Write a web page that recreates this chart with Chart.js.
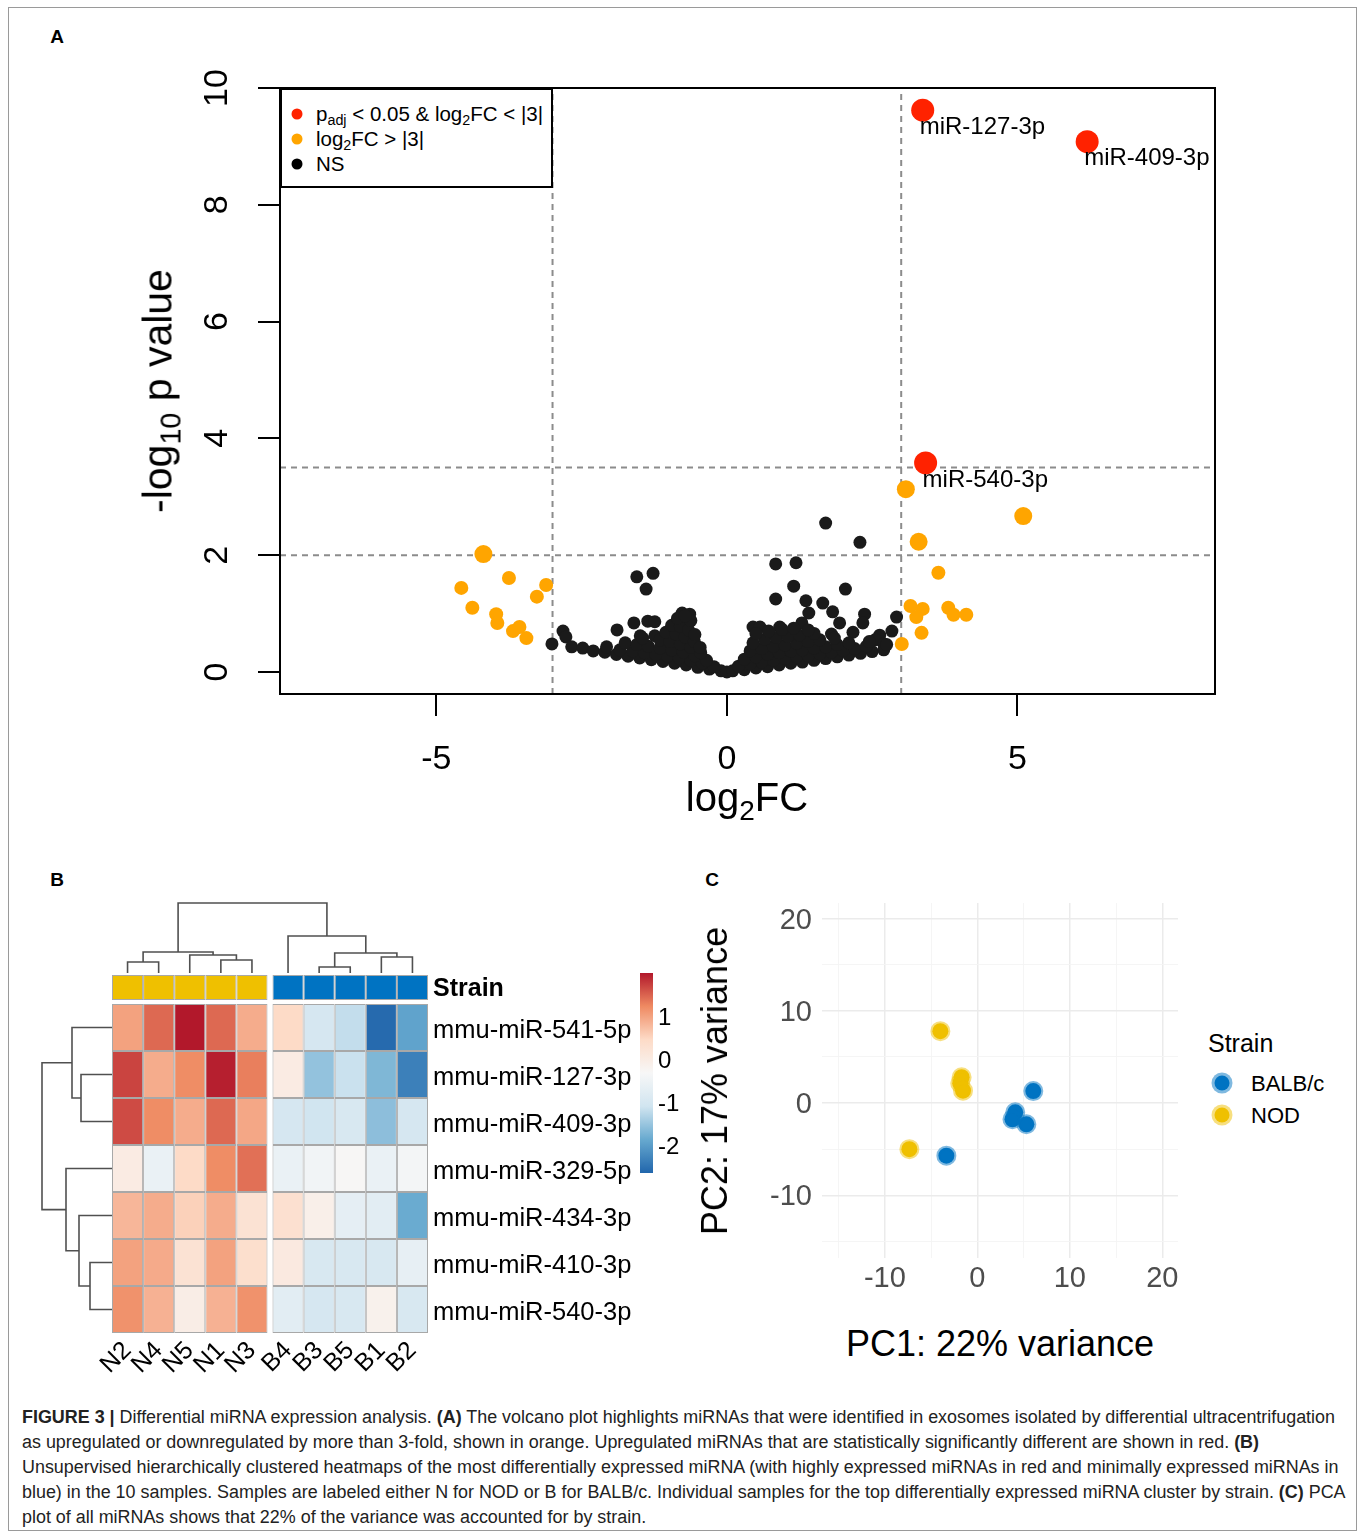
<!DOCTYPE html>
<html>
<head>
<meta charset="utf-8">
<script src="https://cdn.jsdelivr.net/npm/chart.js@4.4.1/dist/chart.umd.min.js"></script>
<style>
body { margin: 0; background: #fff; font-family: "Liberation Sans", Arial, Helvetica, sans-serif; }
#page { position: relative; width: 1360px; height: 1533px; overflow: hidden; background: #fff; }
#frame { position: absolute; left: 8px; top: 7px; width: 1347px; height: 1522px; border: 1px solid #9a9a9a; }
canvas { position: absolute; }
.t { position: absolute; white-space: nowrap; color: #000; line-height: 1; }
.c { transform: translate(-50%, -50%); }
.lm { transform: translate(0, -50%); }
sub { font-size: 70%; vertical-align: -0.32em; line-height: 0; }
.letter { font-weight: bold; font-size: 19px; }
#vleg { position: absolute; left: 280px; top: 88px; width: 273px; height: 100px; box-sizing: border-box; border: 2px solid #000; background: #fff; }
.dot { position: absolute; width: 11px; height: 11px; border-radius: 50%; transform: translate(-50%, -50%); }
.pdot { position: absolute; width: 15px; height: 15px; border-radius: 50%; transform: translate(-50%, -50%); }
#caption { position: absolute; left: 22px; top: 1405px; font-family: "Liberation Sans", Arial, sans-serif; font-size: 18px; line-height: 25px; color: #222; white-space: nowrap; transform-origin: 0 0; }
#caption b { font-weight: bold; }
</style>
</head>
<body>
<div id="page">
  <div id="frame"></div>

  <div class="t c letter" style="left:57px;top:36px;">A</div>
  <div class="t c letter" style="left:57px;top:879px;">B</div>
  <div class="t c letter" style="left:712px;top:879px;">C</div>

  <!-- panel A -->
  <canvas id="volcano" width="1140" height="770" style="left:100px;top:60px;"></canvas>
  <div id="vleg">
    <div class="dot" style="left:15px;top:24px;background:#ff2200;"></div>
    <div class="t lm" style="left:34px;top:24px;font-size:20.5px;">p<sub>adj</sub> &lt; 0.05 &amp; log<sub>2</sub>FC &lt; |3|</div>
    <div class="dot" style="left:15px;top:49px;background:#ffa500;"></div>
    <div class="t lm" style="left:34px;top:49px;font-size:20.5px;">log<sub>2</sub>FC &gt; |3|</div>
    <div class="dot" style="left:15px;top:74px;background:#000;"></div>
    <div class="t lm" style="left:34px;top:74px;font-size:20.5px;">NS</div>
  </div>
  <div class="t c" style="left:747px;top:797px;font-size:40px;">log<sub>2</sub>FC</div>
  <div class="t" style="left:158px;top:391px;font-size:41px;transform:translate(-50%,-50%) rotate(-90deg);">-log<sub>10</sub> p value</div>

  <!-- panel B -->
  <canvas id="colDendro" width="550" height="77" style="left:90px;top:898px;"></canvas>
  <canvas id="strainBar" width="550" height="25" style="left:90px;top:975px;"></canvas>
  <canvas id="rowDendro" width="74" height="329" style="left:38px;top:1004px;"></canvas>
  <canvas id="heat" width="550" height="376" style="left:90px;top:1004px;"></canvas>
  <canvas id="colorbar" width="60" height="200" style="left:640px;top:973px;"></canvas>

  <!-- panel C -->
  <canvas id="pca" width="500" height="420" style="left:700px;top:880px;"></canvas>
  <div class="t" style="left:715px;top:1081px;font-size:36px;transform:translate(-50%,-50%) rotate(-90deg);">PC2: 17% variance</div>
  <div class="t c" style="left:1000px;top:1344px;font-size:36px;">PC1: 22% variance</div>
  <div class="t lm" style="left:1208px;top:1043px;font-size:25px;">Strain</div>
  <div class="pdot" style="left:1222px;top:1083px;background:#0073C2;box-shadow:0 0 0 3px rgba(0,115,194,0.5);"></div>
  <div class="t lm" style="left:1251px;top:1084px;font-size:22px;">BALB/c</div>
  <div class="pdot" style="left:1222px;top:1115px;background:#EFC000;box-shadow:0 0 0 3px rgba(239,192,0,0.5);"></div>
  <div class="t lm" style="left:1251px;top:1116px;font-size:22px;">NOD</div>

  <div id="caption"><span id="cap1"><b>FIGURE 3 |</b> Differential miRNA expression analysis. <b>(A)</b> The volcano plot highlights miRNAs that were identified in exosomes isolated by differential ultracentrifugation</span><br>as upregulated or downregulated by more than 3-fold, shown in orange. Upregulated miRNAs that are statistically significantly different are shown in red. <b>(B)</b><br>Unsupervised hierarchically clustered heatmaps of the most differentially expressed miRNA (with highly expressed miRNAs in red and minimally expressed miRNAs in<br>blue) in the 10 samples. Samples are labeled either N for NOD or B for BALB/c. Individual samples for the top differentially expressed miRNA cluster by strain. <b>(C)</b> PCA<br>plot of all miRNAs shows that 22% of the variance was accounted for by strain.</div>
</div>

<script>
// ---------- A: volcano (log2FC vs -log10 p) ----------
const sigLabels = ['miR-127-3p', 'miR-409-3p', 'miR-540-3p'];
const sigFC = [3.37, 6.20, 3.42];
const sigP = [9.62, 9.08, 3.58];

const upFC = [-4.19, -3.75, -4.57, -3.11, -3.27, -4.38, -3.97, -3.95, -3.68, -3.57, -3.45,
  3.30, 5.10, 3.64, 3.16, 3.37, 3.26, 3.81, 3.90, 4.12, 3.35, 3.01, 3.08];
const upP = [2.02, 1.61, 1.44, 1.49, 1.29, 1.10, 0.99, 0.84, 0.70, 0.77, 0.58,
  2.23, 2.67, 1.70, 1.13, 1.08, 0.94, 1.10, 0.98, 0.98, 0.67, 0.48, 3.13];

const nsFC = [
  -1.55, -1.27, -1.39, 0.84, 1.19, 1.15, 0.84, 2.04, 1.36, 1.65, 1.41, 1.82, 1.94, 2.37, 2.34, 1.80, 2.17, 2.92, 2.84, 2.63,
  -3.01, -2.82, -2.77, -1.89, -1.60, -1.49, -1.36, -1.24, -1.24, -0.77, -0.64, 0.45, 0.57, 0.91, 1.29, 1.70, 2.29, 2.55, 2.70,
  -2.67, -2.48, -2.30, -2.10, -1.90, -1.70, -1.50, -1.30, -1.10, -0.90, -0.70, -0.50, -0.30, -0.10, 0.00,
  -2.07, -1.84, -1.62, -1.42, -1.22, -1.02, -0.82, -0.62, -0.42, -0.22,
  -1.75, -1.55, -1.35, -1.15, -0.95, -0.75, -0.55, -0.35,
  -1.45, -1.15, -0.98, -0.80, -0.62, -0.45,
  -1.05, -0.88, -0.72, -0.56, -0.46,
  -0.95, -0.80, -0.66, -0.55,
  -0.85, -0.62, -0.72,
  0.10, 0.30, 0.50, 0.70, 0.90, 1.10, 1.30, 1.50, 1.70, 1.90, 2.10, 2.30, 2.50, 2.70,
  0.20, 0.40, 0.60, 0.80, 1.00, 1.20, 1.40, 1.60, 1.80, 2.00, 2.20, 2.40,
  0.30, 0.50, 0.70, 0.90, 1.10, 1.30, 1.50, 1.70, 1.90, 2.10,
  0.40, 0.60, 0.80, 1.00, 1.20, 1.40, 1.60, 1.85,
  0.45, 0.65, 0.85, 1.05, 1.25, 1.50,
  0.50, 0.72, 0.95, 1.15, 1.40,
  2.45, 2.75
];
const nsP = [
  1.63, 1.69, 1.42, 1.85, 1.87, 1.47, 1.25, 1.42, 1.22, 1.18, 1.01, 1.03, 0.84, 0.99, 0.84, 0.65, 0.68, 0.94, 0.70, 0.63,
  0.48, 0.70, 0.60, 0.72, 0.84, 0.62, 0.87, 0.86, 0.62, 1.01, 0.99, 0.77, 0.77, 0.77, 0.84, 2.55, 2.22, 0.55, 0.48,
  0.43, 0.41, 0.36, 0.34, 0.30, 0.27, 0.24, 0.21, 0.18, 0.15, 0.12, 0.08, 0.05, 0.02, 0.00,
  0.43, 0.38, 0.36, 0.33, 0.30, 0.27, 0.24, 0.20, 0.15, 0.09,
  0.50, 0.47, 0.44, 0.41, 0.38, 0.34, 0.28, 0.20,
  0.58, 0.55, 0.52, 0.48, 0.42, 0.33,
  0.68, 0.65, 0.60, 0.52, 0.42,
  0.80, 0.78, 0.72, 0.64,
  0.92, 0.88, 0.96,
  0.02, 0.04, 0.07, 0.09, 0.12, 0.15, 0.17, 0.20, 0.23, 0.26, 0.29, 0.32, 0.35, 0.38,
  0.10, 0.14, 0.17, 0.20, 0.23, 0.26, 0.28, 0.31, 0.34, 0.37, 0.40, 0.44,
  0.22, 0.26, 0.30, 0.33, 0.36, 0.38, 0.41, 0.43, 0.47, 0.50,
  0.36, 0.40, 0.44, 0.46, 0.49, 0.52, 0.55, 0.58,
  0.50, 0.56, 0.59, 0.61, 0.63, 0.66,
  0.66, 0.70, 0.73, 0.75, 0.72,
  0.52, 0.47
];
const fcCut = [-3, 3];
const pCut = [2, 3.5];
const volcanoXTicks = [-5, 0, 5];
const volcanoYTicks = [0, 2, 4, 6, 8, 10];

// ---------- B: heatmap ----------
const samples = ['N2', 'N4', 'N5', 'N1', 'N3', 'B4', 'B3', 'B5', 'B1', 'B2'];
const sampleStrain = ['NOD', 'NOD', 'NOD', 'NOD', 'NOD', 'BALB/c', 'BALB/c', 'BALB/c', 'BALB/c', 'BALB/c'];
const mirnas = ['mmu-miR-541-5p', 'mmu-miR-127-3p', 'mmu-miR-409-3p', 'mmu-miR-329-5p',
  'mmu-miR-434-3p', 'mmu-miR-410-3p', 'mmu-miR-540-3p'];
const zScores = [
  [1.00, 1.45, 2.00, 1.45, 0.90, 0.45, -1.00, -1.20, -2.60, -1.95],
  [1.70, 0.90, 1.20, 1.95, 1.30, 0.00, -1.55, -1.15, -1.70, -2.35],
  [1.65, 1.20, 0.90, 1.45, 0.95, -1.00, -1.10, -0.95, -1.60, -1.00],
  [0.00, -0.60, 0.45, 1.20, 1.40, -0.60, -0.45, -0.30, -0.60, -0.40],
  [0.80, 0.90, 0.55, 0.90, 0.25, 0.30, -0.10, -0.70, -0.75, -1.85],
  [1.00, 0.92, 0.25, 1.00, 0.35, 0.05, -0.95, -0.95, -0.95, -0.65],
  [1.15, 0.85, -0.05, 0.85, 1.15, -0.75, -1.00, -0.95, -0.15, -0.95]
];
const zRange = [-2.65, 2.0];
const colorbarTicks = [1, 0, -1, -2];
// dendrograms: [child a, child b, height]; leaves are 0..n-1, merges numbered from n
const colMerges = [[0, 1, 11], [3, 4, 13], [2, 11, 18], [10, 12, 21], [6, 7, 6], [8, 9, 16], [14, 15, 20], [5, 16, 37], [13, 17, 70]];
const rowMerges = [[1, 2, 31], [0, 7, 40], [5, 6, 22], [4, 9, 33], [3, 10, 46], [8, 11, 70]];

// ---------- C: PCA ----------
const nodPC1 = [-4.0, -1.7, -1.85, -1.55, -7.35];
const nodPC2 = [7.8, 2.8, 2.15, 1.35, -5.0];
const balbPC1 = [6.05, 4.1, 3.8, 5.3, -3.35];
const balbPC2 = [1.3, -1.0, -1.75, -2.3, -5.7];
const pcaTicks = [-10, 0, 10, 20];

// ================= drawing =================
const FONT = '"Liberation Sans", Arial, Helvetica, sans-serif';
Chart.defaults.font.family = FONT;
Chart.defaults.color = '#000';

const base = {
  responsive: false, animation: false, devicePixelRatio: 1, events: [],
  plugins: { legend: { display: false }, tooltip: { enabled: false } }
};
const el = id => document.getElementById(id);
const pts = (xs, ys) => xs.map((x, i) => ({ x, y: ys[i] }));
const fixTicks = vals => s => { s.ticks = vals.map(v => ({ value: v })); };
// fixed axis size, and no extra room for half labels at the ends
const fitTo = (w, h) => s => {
  if (w != null) s.width = w;
  if (h != null) s.height = h;
  s.paddingTop = s.paddingBottom = s.paddingLeft = s.paddingRight = 0;
};

// ---- volcano ----
const xRange = [-7.69, 8.40], yRange = [-0.377, 10.0];
const cutLines = [
  ...fcCut.map(c => [{ x: c, y: yRange[0] }, { x: c, y: yRange[1] }]),
  ...pCut.map(p => [{ x: xRange[0], y: p }, { x: xRange[1], y: p }])
].map(d => ({ data: d, showLine: true, borderColor: '#8c8c8c', borderWidth: 2, borderDash: [6, 5], pointRadius: 0 }));

new Chart(el('volcano'), {
  type: 'scatter',
  data: {
    datasets: [
      { data: pts(sigFC, sigP), pointBackgroundColor: '#ff2200', pointBorderWidth: 0, pointRadius: 11.5 },
      { data: pts(upFC, upP), pointBackgroundColor: '#ffa500', pointBorderWidth: 0,
        pointRadius: c => (c.raw && c.raw.y >= pCut[0]) ? 9 : 7 },
      { data: pts(nsFC, nsP), pointBackgroundColor: '#1a1a1a', pointBorderWidth: 0, pointRadius: 6.5 },
      ...cutLines
    ]
  },
  options: {
    ...base,
    layout: { padding: { top: 28, right: 25, left: 0, bottom: 0 } },
    scales: {
      x: {
        type: 'linear', min: xRange[0], max: xRange[1], afterBuildTicks: fixTicks(volcanoXTicks),
        grid: { drawOnChartArea: false, drawTicks: true, tickLength: 22, color: '#000', lineWidth: 2 },
        border: { display: false },
        ticks: { font: { size: 34 }, color: '#000', padding: 23 },
        afterFit: fitTo(null, 136)
      },
      y: {
        type: 'linear', min: yRange[0], max: yRange[1], afterBuildTicks: fixTicks(volcanoYTicks),
        grid: { drawOnChartArea: false, drawTicks: true, tickLength: 22, color: '#000', lineWidth: 2 },
        border: { display: false },
        ticks: { display: false },
        afterFit: fitTo(180, null)
      }
    }
  },
  plugins: [{
    id: 'volcanoDeco',
    afterDraw(chart) {
      const { ctx, chartArea: a, scales: { y } } = chart;
      ctx.save();
      ctx.strokeStyle = '#000';
      ctx.lineWidth = 2;
      ctx.strokeRect(a.left, a.top, a.right - a.left, a.bottom - a.top);
      // y tick labels, turned like base R
      ctx.fillStyle = '#000';
      ctx.font = '34px ' + FONT;
      ctx.textAlign = 'center';
      ctx.textBaseline = 'middle';
      volcanoYTicks.forEach(v => {
        ctx.save();
        ctx.translate(a.left - 62, y.getPixelForValue(v));
        ctx.rotate(-Math.PI / 2);
        ctx.fillText(String(v), 0, 0);
        ctx.restore();
      });
      // point labels
      ctx.font = '24px ' + FONT;
      ctx.textAlign = 'left';
      chart.getDatasetMeta(0).data.forEach((p, i) => ctx.fillText(sigLabels[i], p.x - 3, p.y + 17));
      ctx.restore();
    }
  }]
});

// ---- heatmap ----
const palette = ['#2166AC', '#67A9CF', '#D1E5F0', '#F7F7F7', '#FDDBC7', '#EF8A62', '#B2182B'];
const hex = h => [1, 3, 5].map(i => parseInt(h.slice(i, i + 2), 16));
function zColor(z) {
  let t = (z - zRange[0]) / (zRange[1] - zRange[0]);
  t = Math.max(0, Math.min(1, t)) * (palette.length - 1);
  const i = Math.min(Math.floor(t), palette.length - 2), f = t - i;
  const a = hex(palette[i]), b = hex(palette[i + 1]);
  return 'rgb(' + a.map((v, k) => Math.round(v + (b[k] - v) * f)).join(',') + ')';
}
const gapUnits = 5 / 31.2;
const colX = samples.map((s, i) => i + (sampleStrain[i] !== sampleStrain[0] ? gapUnits : 0));
const xLim = [-0.5, colX[colX.length - 1] + 0.5];
const strainColor = { 'NOD': '#EFC000', 'BALB/c': '#0073C2' };

const cells = [];
zScores.forEach((row, r) => row.forEach((z, c) => cells.push({ x: colX[c], y: [r, r + 1], z })));

new Chart(el('heat'), {
  type: 'bar',
  data: { datasets: [{
    data: cells, backgroundColor: cells.map(c => zColor(c.z)),
    borderColor: '#a8a8a8', borderWidth: 1, borderSkipped: false, inflateAmount: 0,
    barPercentage: 1, categoryPercentage: 1
  }] },
  options: {
    ...base,
    layout: { padding: { left: 22, right: 0, top: 0, bottom: 0 } },
    scales: {
      x: {
        type: 'linear', min: xLim[0], max: xLim[1], offset: false, afterBuildTicks: fixTicks(colX),
        grid: { display: false, drawTicks: false, offset: false }, border: { display: false },
        ticks: { autoSkip: false, minRotation: 45, maxRotation: 45, padding: 3, font: { size: 25 }, color: '#000',
          callback: (v, i) => samples[i] },
        afterFit: fitTo(null, 47)
      },
      y: {
        type: 'linear', position: 'right', reverse: true, min: 0, max: mirnas.length,
        afterBuildTicks: fixTicks(mirnas.map((m, i) => i + 0.5)),
        grid: { display: false, drawTicks: false }, border: { display: false },
        ticks: { autoSkip: false, padding: 5, labelOffset: 3, font: { size: 25.5 }, color: '#000', callback: (v, i) => mirnas[i] },
        afterFit: fitTo(212, null)
      }
    }
  }
});

new Chart(el('strainBar'), {
  type: 'bar',
  data: { datasets: [{
    data: colX.map(x => ({ x, y: [0, 1] })), backgroundColor: sampleStrain.map(s => strainColor[s]),
    borderColor: '#a8a8a8', borderWidth: 1, borderSkipped: false, inflateAmount: 0,
    barPercentage: 1, categoryPercentage: 1
  }] },
  options: {
    ...base,
    layout: { padding: { left: 22 } },
    scales: {
      x: { type: 'linear', min: xLim[0], max: xLim[1], offset: false, display: false, afterBuildTicks: fixTicks(colX), grid: { offset: false } },
      y: {
        type: 'linear', position: 'right', min: 0, max: 1, afterBuildTicks: fixTicks([0.5]),
        grid: { display: false, drawTicks: false }, border: { display: false },
        ticks: { padding: 5, labelOffset: 2, font: { size: 25, weight: 'bold' }, color: '#000', callback: () => 'Strain' },
        afterFit: fitTo(212, null)
      }
    }
  }
});

// dendrogram segments from merge lists
function dendroSets(merges, leafPos, horizontal) {
  const pos = leafPos.slice(), h = leafPos.map(() => 0);
  return merges.map(([a, b, hm]) => {
    const seg = [[pos[a], h[a]], [pos[a], hm], [pos[b], hm], [pos[b], h[b]]];
    pos.push((pos[a] + pos[b]) / 2);
    h.push(hm);
    return {
      data: seg.map(([p, v]) => horizontal ? { x: v, y: p } : { x: p, y: v }),
      showLine: true, borderColor: '#505050', borderWidth: 1.6, pointRadius: 0, tension: 0
    };
  });
}

new Chart(el('colDendro'), {
  type: 'scatter',
  data: { datasets: dendroSets(colMerges, colX, false) },
  options: {
    ...base,
    layout: { padding: { left: 22, right: 212 } },
    scales: {
      x: { type: 'linear', min: xLim[0], max: xLim[1], display: false },
      y: { type: 'linear', min: -2, max: 75, display: false }
    }
  }
});

new Chart(el('rowDendro'), {
  type: 'scatter',
  data: { datasets: dendroSets(rowMerges, mirnas.map((m, i) => i + 0.5), true) },
  options: {
    ...base,
    scales: {
      x: { type: 'linear', reverse: true, min: 0, max: 74, display: false },
      y: { type: 'linear', reverse: true, min: 0, max: mirnas.length, display: false }
    }
  }
});

new Chart(el('colorbar'), {
  type: 'bar',
  data: { datasets: [{
    data: [{ x: 0, y: zRange.slice() }],
    backgroundColor: c => {
      const ch = c.chart, y = ch.scales.y;
      if (!ch.chartArea || !y) return palette[3];
      const g = ch.ctx.createLinearGradient(0, y.getPixelForValue(zRange[0]), 0, y.getPixelForValue(zRange[1]));
      palette.forEach((col, i) => g.addColorStop(i / (palette.length - 1), col));
      return g;
    },
    borderWidth: 0, barPercentage: 1, categoryPercentage: 1
  }] },
  options: {
    ...base,
    scales: {
      x: { type: 'linear', min: -0.5, max: 0.5, display: false, offset: false, afterBuildTicks: fixTicks([0]), grid: { offset: false } },
      y: {
        type: 'linear', position: 'right', min: zRange[0], max: zRange[1], afterBuildTicks: fixTicks(colorbarTicks),
        grid: { display: false, drawTicks: false }, border: { display: false },
        ticks: { padding: 5, labelOffset: 2, font: { size: 24 }, color: '#000' },
        afterFit: fitTo(47, null)
      }
    }
  }
});

// ---- PCA ----
const pcaRange = [-16.8, 21.7];
const pcaGrid = [...pcaTicks, ...pcaTicks.map(v => v - 5)].sort((a, b) => a - b);
const isMajor = c => c.tick && pcaTicks.includes(c.tick.value);
const pcaAxis = (extra) => Object.assign({
  type: 'linear', min: pcaRange[0], max: pcaRange[1], afterBuildTicks: fixTicks(pcaGrid),
  grid: { color: c => isMajor(c) ? '#EBEBEB' : '#F4F4F4', lineWidth: c => isMajor(c) ? 1.5 : 0.9, drawTicks: false },
  border: { display: false },
}, extra);

new Chart(el('pca'), {
  type: 'scatter',
  data: { datasets: [
    { data: pts(balbPC1, balbPC2), pointBackgroundColor: '#0073C2', pointBorderColor: 'rgba(0,115,194,0.5)', pointBorderWidth: 4, pointRadius: 8 },
    { data: pts(nodPC1, nodPC2), pointBackgroundColor: '#EFC000', pointBorderColor: 'rgba(239,192,0,0.5)', pointBorderWidth: 4, pointRadius: 8 }
  ] },
  options: {
    ...base,
    layout: { padding: { top: 23, right: 22, left: 0, bottom: 0 } },
    scales: {
      x: pcaAxis({
        ticks: { autoSkip: false, maxRotation: 0, padding: 4, font: { size: 29 }, color: '#4D4D4D', callback: v => pcaTicks.includes(v) ? v : '' },
        afterFit: fitTo(null, 42)
      }),
      y: pcaAxis({
        ticks: { autoSkip: false, padding: 10, labelOffset: 2, font: { size: 29 }, color: '#4D4D4D', callback: v => pcaTicks.includes(v) ? v : '' },
        afterFit: fitTo(122, null)
      })
    }
  }
});

// caption: squeeze the text to the condensed width of the figure legend
const cap = el('caption');
const firstLine = el('cap1').getBoundingClientRect().width;
cap.style.transform = 'scaleX(' + (1313 / firstLine) + ')';
</script>
</body>
</html>
